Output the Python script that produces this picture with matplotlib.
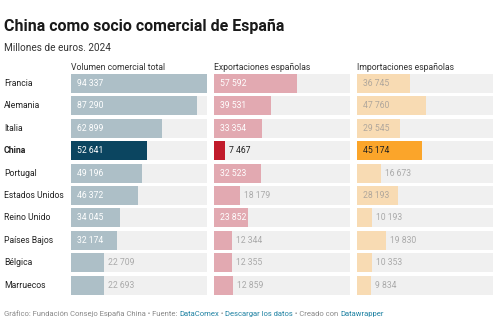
import matplotlib
matplotlib.use("Agg")
import matplotlib.pyplot as plt

plt.rcParams['font.family'] = ['Roboto', 'DejaVu Sans']

paises = ["Francia", "Alemania", "Italia", "China", "Portugal", "Estados Unidos",
          "Reino Unido", "Países Bajos", "Bélgica", "Marruecos"]
volumen = [94337, 87290, 62899, 52641, 49196, 46372, 34045, 32174, 22709, 22693]
exportaciones = [57592, 39531, 33354, 7467, 32523, 18179, 23852, 12344, 12355, 12859]
importaciones = [36745, 47760, 29545, 45174, 16673, 28193, 10193, 19830, 10353, 9834]
columnas = ["Volumen comercial total", "Exportaciones españolas", "Importaciones españolas"]


def fmt(v):
    return f"{v:,}".replace(",", " ")


# (values, normal colour, china colour, label colour inside, china label colour)
series = [
    (volumen, "#adbfc7", "#0b4560", "white", "white"),
    (exportaciones, "#e2a9b1", "#c11b2b", "white", "#222222"),
    (importaciones, "#f8dbb3", "#fba52a", "#b0a79c", "#222222"),
]

W, H = 500, 335
fig = plt.figure(figsize=(W / 100, H / 100), dpi=100)
fig.patch.set_facecolor("white")

col_left = [71, 214, 357]
col_w = 136
top, bot = 72.3, 296.3
xmax = 94500
n = len(paises)

for k, (vals, c, cc, lc, lcc) in enumerate(series):
    ax = fig.add_axes([col_left[k] / W, 1 - bot / H, col_w / W, (bot - top) / H])
    ys = range(n)
    ax.barh(ys, [xmax] * n, height=0.85, color="#f0f0f0", left=0)
    cols = [cc if p == "China" else c for p in paises]
    ax.barh(ys, vals, height=0.85, color=cols)
    for i, v in enumerate(vals):
        china = paises[i] == "China"
        if v > 23000:
            ax.annotate(fmt(v), (0, i), xytext=(4, 0), textcoords="offset points",
                        va="center", ha="left", fontsize=6.2,
                        color=lcc if china else lc)
        else:
            ax.annotate(fmt(v), (v, i), xytext=(3, 0), textcoords="offset points",
                        va="center", ha="left", fontsize=6.2,
                        color="#222222" if china else "#aaaaaa")
    ax.set_xlim(0, xmax)
    ax.set_ylim(n - 0.5, -0.5)
    ax.axis("off")
    fig.text(col_left[k] / W, 1 - 67 / H, columnas[k], fontsize=6.2,
             color="#333333", va="center", ha="left")

for i, p in enumerate(paises):
    y = 83.5 + 22.4 * i
    fig.text(4 / W, 1 - y / H, p, fontsize=6.2, color="#222222", va="center",
             ha="left", fontweight="bold" if p == "China" else "normal")

fig.text(4 / W, 1 - 26 / H, "China como socio comercial de España", fontsize=11.5,
         fontweight="bold", color="#1a1a1a", va="center", ha="left")
fig.text(4 / W, 1 - 48 / H, "Millones de euros. 2024", fontsize=7.2,
         color="#333333", va="center", ha="left")

# footer built piece by piece, each piece starts where the previous one ends
partes = [("Gráfico: Fundación Consejo España China • Fuente: ", "#888888"),
          ("DataComex", "#1d81a2"),
          (" • ", "#888888"),
          ("Descargar los datos", "#1d81a2"),
          (" • Creado con ", "#888888"),
          ("Datawrapper", "#1d81a2")]
prev = fig.text(4 / W, 1 - 314 / H, partes[0][0], fontsize=5.5, color=partes[0][1],
                va="center", ha="left")
for txt, col in partes[1:]:
    prev = fig.axes[0].annotate(txt, xy=(1, 0), xycoords=prev, va="bottom",
                                ha="left", fontsize=5.5, color=col,
                                annotation_clip=False)

fig.savefig("out.png", dpi=100)
